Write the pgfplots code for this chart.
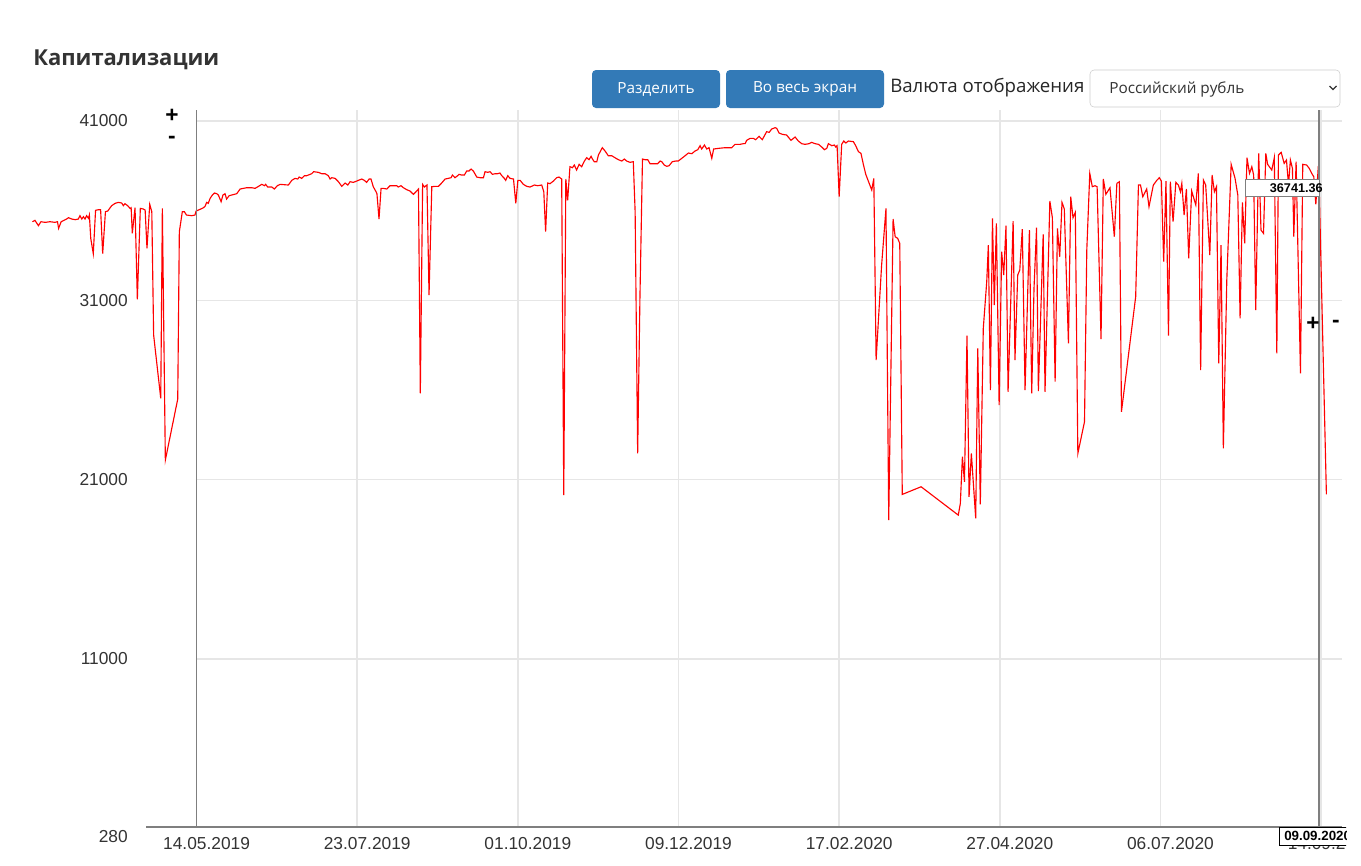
\documentclass[border=0pt]{standalone}
\usepackage{pgfplots}
\usepackage{pgfplotstable}
\pgfplotsset{compat=1.18}
\usepackage{fontspec}
\setmainfont{Liberation Sans}
\newfontfamily\osans{Open Sans}
\definecolor{btn}{HTML}{337AB7}
\definecolor{txt}{HTML}{333333}
\definecolor{grd}{HTML}{E6E6E6}
\definecolor{dk}{HTML}{7F7F7F}
\definecolor{bord}{HTML}{CCCCCC}

\pgfplotstableread{
d v
-71.5 35383
-70.4 35458
-68.9 35160
-67.8 35383
-66.0 35346
-63.8 35383
-61.7 35346
-60.6 35383
-60.1 35011
-59.0 35383
-56.6 35533
-55.8 35607
-54.4 35533
-52.9 35495
-51.5 35533
-50.8 35718
-50.0 35533
-49.3 35663
-48.6 35533
-47.9 35718
-47.1 35570
-46.7 35755
-46.1 34453
-45.0 33598
-44.0 36016
-42.8 36053
-41.8 36053
-40.9 33598
-39.7 35941
-38.7 35979
-37.0 36276
-35.5 36406
-34.1 36462
-32.6 36425
-31.9 36276
-31.2 36388
-30.0 36276
-29.0 36127
-28.5 36165
-28.0 34732
-26.8 36165
-25.8 31049
-24.5 36127
-23.2 36090
-22.4 36034
-21.6 33895
-20.4 36350
-19.5 35941
-18.7 29059
-15.6 25525
-14.9 36127
-13.6 22084
-8.2 25488
-7.5 34825
-6.2 35941
-5.3 35941
-4.4 35755
-2.1 35718
-0.7 35755
-0.2 35979
1.5 36071
3.0 36165
3.7 36239
4.4 36462
5.1 36406
5.9 36685
6.9 36871
7.8 36983
8.8 36945
9.5 36871
10.7 36499
11.5 36871
12.4 36945
13.1 36648
14.2 36834
15.3 36871
17.5 36945
19.0 37206
20.4 37243
21.9 37280
24.0 37280
25.5 37243
27.0 37355
28.4 37466
29.6 37392
30.1 37466
31.0 37317
32.8 37317
33.9 37206
35.2 37392
36.4 37466
40.0 37429
41.5 37690
42.9 37801
44.1 37764
44.7 37876
45.8 37801
47.0 37950
48.0 37950
50.2 38062
51.0 38173
53.1 38136
54.5 38062
56.0 38062
57.4 37950
58.2 37764
58.9 37838
60.4 37801
61.8 37615
63.3 37355
64.7 37541
65.9 37429
66.9 37615
68.3 37578
69.1 37615
70.5 37690
72.0 37764
73.1 37690
74.1 37578
75.2 37764
76.0 37764
77.0 37336
78.2 37057
78.6 36945
79.5 35532
80.4 37243
81.4 37243
82.9 37206
84.3 37392
85.8 37392
87.2 37392
87.9 37317
89.1 37392
90.1 37280
91.6 37169
93.0 37094
94.5 36908
95.9 37094
96.7 37206
97.5 25804
98.5 37466
99.3 37317
100.0 37392
100.4 37429
101.3 31291
102.5 37336
103.9 37355
105.4 37355
106.8 37541
108.3 37764
109.7 37801
110.9 37838
111.5 37987
112.6 37838
113.4 37913
114.4 38024
115.5 37987
116.7 37987
117.7 38210
118.7 38210
119.6 38322
120.6 38210
122.1 37875
123.5 37838
125.0 37838
125.7 38173
126.9 38136
127.9 38173
128.9 38024
130.1 38062
131.2 38062
132.2 38099
133.0 37950
134.1 37801
134.7 37690
135.6 37950
136.6 37801
138.1 37764
139.1 36406
140.0 37690
141.0 37690
142.4 37466
143.9 37355
145.3 37317
147.2 37429
148.7 37392
150.4 37429
151.3 37057
152.1 34825
153.0 37541
154.0 37504
155.5 37652
156.9 37838
157.9 37875
159.1 37764
160.0 20131
160.9 37764
161.7 36574
162.7 38452
163.8 38396
164.6 38545
165.6 38266
166.7 38582
167.8 38452
169.0 38768
170.0 38954
171.0 38843
171.9 39029
172.5 38880
173.3 38731
174.4 38731
175.1 39103
176.8 39512
178.0 39326
179.4 39066
180.9 39066
182.3 38954
183.8 38843
185.3 38768
186.4 38880
187.4 38768
188.9 38694
190.3 38731
191.1 35941
192.2 22456
193.2 31198
194.3 38880
195.4 38843
196.6 38843
197.6 38619
199.8 38619
200.9 38619
202.0 38768
202.7 38731
203.8 38545
204.9 38471
205.9 38508
207.3 38731
208.8 38768
209.9 38768
211.4 38917
212.9 39066
214.3 39215
215.8 39178
217.2 39326
218.4 39401
219.4 39624
220.1 39438
221.3 39661
222.3 39438
223.3 39512
224.5 38917
225.3 39438
227.4 39475
230.3 39512
233.2 39512
234.6 39698
236.8 39698
238.3 39736
239.0 39736
239.7 39921
241.2 40033
242.6 40033
243.6 39959
245.1 40145
246.5 39959
248.4 40405
249.5 40368
250.6 40554
252.1 40628
252.8 40591
253.8 40331
255.3 40256
257.1 40219
259.0 39921
260.8 40107
262.2 39884
263.7 39736
265.1 39698
266.9 39736
268.0 39810
269.5 39736
271.0 39698
272.4 39550
273.6 39401
274.6 39475
275.3 39736
276.8 39624
277.9 39661
278.5 39550
279.1 39624
280.0 36778
281.1 39698
282.0 39884
282.9 39773
284.0 39884
286.2 39847
287.2 39624
288.4 39289
289.5 39196
290.6 38545
291.6 38024
292.7 37652
294.2 37150
295.1 37801
296.1 27664
298.5 32965
300.4 36127
301.6 18736
303.5 35532
304.4 34546
305.5 34453
306.4 34174
307.5 20169
315.7 20596
331.9 19015
332.8 19666
333.7 22271
334.6 20875
335.7 29022
336.6 20038
337.6 22456
339.5 18829
340.4 28315
341.5 19611
342.8 29431
344.3 32035
345.0 34081
345.9 25991
346.8 35569
347.6 30733
348.5 35290
349.7 25154
350.8 33709
351.7 32408
352.7 35160
353.6 25897
355.8 35420
356.6 27664
357.8 32408
358.7 32686
359.8 34974
361.0 25991
362.9 34918
363.9 25804
364.9 31663
366.0 35048
366.8 25935
368.9 34676
369.7 25897
371.8 36536
372.9 35607
374.1 26455
375.1 35011
376.1 33430
377.1 36462
378.1 36090
379.9 28594
380.9 36778
381.9 35607
382.9 35904
384.0 22456
386.9 24223
387.9 33802
389.2 38080
390.3 37336
391.5 37392
392.4 37336
394.1 28836
395.1 37764
396.2 36908
398.0 37280
399.9 34546
401.0 37522
402.1 37615
403.0 24781
409.2 31198
410.4 37429
411.3 37429
412.3 36778
414.0 37206
415.0 36220
416.9 37429
418.4 37690
419.5 37838
420.4 37652
421.4 33151
422.4 37652
423.5 29022
424.3 37615
425.5 35383
426.7 37578
427.8 37429
428.7 37057
429.3 37522
430.3 35755
431.3 37206
432.3 33337
433.6 37094
435.4 36313
436.5 38080
437.5 27106
438.7 37708
439.7 37429
441.5 33523
442.5 37987
443.5 37057
444.4 37336
445.4 27478
446.4 34081
447.4 22735
448.9 32128
450.8 38582
452.5 37801
453.7 36871
454.7 29989
455.7 36462
456.7 34174
457.7 38954
458.8 38080
459.8 38452
460.6 37987
461.5 30454
462.8 39196
463.8 34918
464.9 34732
465.9 39196
466.7 38582
468.5 38266
469.6 38954
470.7 28036
471.4 39103
472.6 39252
473.9 38638
474.9 38824
475.8 37429
476.6 38824
477.5 38359
478.1 34546
479.1 38731
481.0 26920
482.0 38582
483.7 38545
484.8 38359
485.9 38080
486.8 37894
487.7 36350
488.7 38322
489.0 38200
492.3 20169
}\capdata

\begin{document}
\begin{tikzpicture}
\useasboundingbox (0,0) rectangle (1020.75pt,-648.75pt);
\begin{scope}
\clip (0,0) rectangle (1008.75pt,-648.75pt);
\begin{axis}[
  at={(24pt,-620.25pt)}, anchor=south west,
  width=982.5pt, height=537.75pt, scale only axis,
  xmin=-71.7, xmax=499.1, ymin=1614, ymax=41614,
  scaled y ticks=false, scaled x ticks=false,
  axis line style={draw=none},
  major tick length=0pt, tick style={draw=none},
  xtick={0,70,140,210,280,350,420,490},
  xticklabels={14.05.2019,23.07.2019,01.10.2019,09.12.2019,17.02.2020,27.04.2020,06.07.2020,14.09.2020},
  xticklabel style={anchor=north, inner sep=0pt, xshift=7.5pt, yshift=-7.5pt, text=txt, font=\fontsize{13}{13}\selectfont},
  ytick={11000,21000,31000,41000},
  yticklabels={11000,21000,31000,41000},
  yticklabel style={anchor=east, inner sep=0pt, xshift=72pt, text=txt, font=\fontsize{13}{13}\selectfont},
  extra y ticks={1614}, extra y tick labels={280},
  extra y tick style={yticklabel style={yshift=-7pt}},
  xmajorgrids, grid style={grd, line width=1.1pt},
  clip=false,
]
\draw[grd, line width=1.1pt] (0,41000) -- (499.1,41000);
\draw[grd, line width=1.1pt] (0,31000) -- (499.1,31000);
\draw[grd, line width=1.1pt] (0,21000) -- (499.1,21000);
\draw[grd, line width=1.1pt] (0,11000) -- (499.1,11000);
\draw[dk, line width=1.2pt] (-22,1614) -- (499.1,1614);
\addplot[color=red, line width=0.85pt, mark=none] table[x=d, y=v] {\capdata};
\draw[dk, line width=1.3pt] (0,1614) -- (0,41614);
\draw[dk, line width=1pt] (489.1,1614) -- (489.1,41614);
\end{axis}
\end{scope}

\begin{scope}[x=0.75pt, y=-0.75pt]
% title
\node[anchor=base west, inner sep=0pt, text=txt, font=\osans\bfseries\fontsize{16.5}{16.5}\selectfont] at (33,65) {Капитализации};
% buttons
\fill[btn, rounded corners=3pt] (592,70) rectangle (720,108);
\fill[btn, rounded corners=3pt] (726,70) rectangle (884,108);
\node[text=white, font=\osans\fontsize{11.5}{11.5}\selectfont] at (656,89) {Разделить};
\node[text=white, font=\osans\fontsize{11.5}{11.5}\selectfont] at (805,89) {Во весь экран};
\node[anchor=west, inner sep=0pt, text=black!85, font=\osans\fontsize{14}{14}\selectfont] at (890,88) {Валюта отображения};
\draw[bord, fill=white, rounded corners=3pt] (1090,70) rectangle (1340,107);
\node[anchor=west, inner sep=0pt, text=txt, font=\osans\fontsize{11.5}{11.5}\selectfont] at (1109,89) {Российский рубль};
\draw[txt, line width=0.9pt] (1329.5,86) -- (1333,89.5) -- (1336.5,86);
% plus minus markers
\node[font=\bfseries\fontsize{17}{17}\selectfont] at (172,116) {+};
\node[font=\bfseries\fontsize{17}{17}\selectfont] at (172,140) {-};
\node[font=\bfseries\fontsize{17}{17}\selectfont] at (1313,324) {+};
\node[font=\bfseries\fontsize{17}{17}\selectfont] at (1336,324) {-};
% value label
\draw[dk, fill=white] (1245,179) rectangle (1319,196);
\node[anchor=east, inner sep=0pt, font=\bfseries\fontsize{9.5}{9.5}\selectfont] at (1323,188) {36741.36};
% date label
\begin{scope}
\clip (1278,826) rectangle (1346,846);
\draw[black, fill=white] (1279,827) rectangle (1350,845);
\node[anchor=west, inner sep=0pt, font=\bfseries\fontsize{10}{10}\selectfont] at (1284,836) {09.09.2020};
\end{scope}
\end{scope}
\end{tikzpicture}
\end{document}
